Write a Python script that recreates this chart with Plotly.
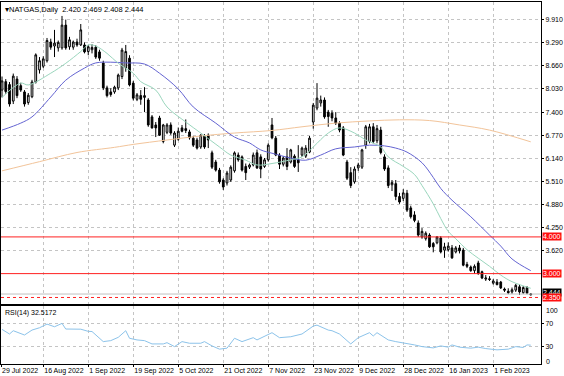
import plotly.graph_objects as go

# ---------------- data ----------------
opens = [8.00, 8.23, 8.15, 7.70, 8.30, 8.12, 7.95, 7.66, 7.82, 8.22,
         8.55, 8.65, 8.80, 9.31, 9.20, 9.15, 9.15, 9.77, 9.18, 9.17,
         9.31, 9.23, 9.23, 9.05, 9.10, 9.17, 9.04, 8.74, 8.06, 7.95,
         7.95, 8.06, 8.37, 8.60, 8.87, 8.19, 7.75, 7.85, 7.80, 7.73,
         7.27, 7.05, 7.24, 6.60, 6.85, 7.05, 6.50, 6.66, 6.97, 6.95,
         6.86, 6.69, 6.64, 6.45, 6.75, 6.77, 6.29, 6.04, 5.82, 5.55,
         5.47, 5.55, 5.80, 6.23, 6.18, 5.92, 5.90, 5.96, 6.29, 6.18,
         5.92, 6.10, 7.05, 6.69, 6.23, 5.98, 6.18, 6.04, 6.20, 6.10,
         6.23, 6.20, 6.31, 7.13, 7.51, 7.65, 7.73, 7.40, 7.37, 7.24,
         7.10, 6.97, 6.04, 5.75, 5.50, 5.88, 5.90, 6.50, 6.60, 7.00,
         6.62, 6.91, 6.18, 5.88, 5.42, 5.45, 5.10, 5.05, 5.19, 4.79,
         4.60, 4.38, 4.00, 3.95, 4.05, 3.82, 3.84, 3.97, 3.64, 3.65,
         3.70, 3.59, 3.70, 3.64, 3.25, 3.18, 3.08, 3.29, 3.05, 2.85,
         2.86, 2.74, 2.77, 2.77, 2.58, 2.52, 2.50, 2.55, 2.64, 2.48,
         2.62, 2.420]
highs = [8.37, 8.30, 8.22, 8.45, 8.38, 8.20, 8.00, 7.92, 8.28, 9.00,
         8.90, 8.92, 9.42, 9.40, 9.64, 9.35, 10.02, 9.92, 9.45, 9.35,
         9.40, 9.80, 9.30, 9.22, 9.25, 9.22, 9.10, 8.80, 8.12, 8.05,
         8.12, 8.45, 9.15, 9.23, 8.95, 8.25, 7.92, 8.00, 8.08, 7.78,
         7.32, 7.13, 7.30, 7.08, 7.10, 7.12, 6.88, 6.98, 7.05, 7.20,
         6.92, 6.75, 6.70, 6.80, 6.80, 6.82, 6.35, 6.10, 5.88, 5.60,
         5.80, 5.95, 6.33, 6.30, 6.22, 6.00, 6.00, 6.30, 6.38, 6.25,
         6.15, 6.55, 7.24, 6.75, 6.28, 6.20, 6.42, 6.40, 6.25, 6.50,
         6.46, 6.50, 6.75, 7.65, 8.19, 7.85, 7.80, 7.46, 7.45, 7.40,
         7.15, 7.02, 6.10, 5.90, 5.92, 6.02, 6.40, 7.05, 7.08, 7.10,
         7.05, 7.00, 6.25, 5.95, 5.55, 5.55, 5.20, 5.30, 5.28, 4.85,
         4.70, 4.45, 4.24, 4.15, 4.10, 3.86, 4.02, 4.02, 3.84, 3.85,
         3.78, 3.75, 3.78, 3.70, 3.32, 3.22, 3.25, 3.35, 3.08, 2.96,
         2.93, 2.85, 2.85, 2.80, 2.62, 2.60, 2.62, 2.72, 2.70, 2.66,
         2.66, 2.469]
lows = [7.80, 7.90, 7.55, 7.62, 7.78, 7.95, 7.55, 7.60, 7.78, 8.18,
        8.45, 8.60, 8.75, 9.10, 8.90, 9.05, 9.10, 9.10, 9.10, 9.10,
        9.18, 9.20, 9.00, 8.95, 9.00, 8.85, 8.80, 8.00, 7.80, 7.82,
        7.90, 8.00, 8.30, 8.50, 8.10, 7.72, 7.70, 7.60, 7.40, 7.00,
        6.95, 6.72, 6.75, 6.55, 6.80, 6.78, 6.45, 6.62, 6.85, 6.83,
        6.65, 6.45, 6.38, 6.40, 6.40, 6.42, 5.85, 5.78, 5.45, 5.28,
        5.40, 5.50, 5.75, 6.05, 5.78, 5.55, 5.85, 5.92, 5.85, 5.60,
        5.88, 6.05, 6.66, 6.20, 5.85, 5.92, 5.82, 6.00, 5.88, 5.77,
        6.18, 6.15, 6.28, 6.95, 7.45, 7.55, 7.22, 7.00, 7.15, 7.05,
        6.85, 6.20, 5.55, 5.33, 5.45, 5.80, 5.85, 6.40, 6.55, 6.55,
        6.55, 6.25, 5.80, 5.33, 5.25, 5.00, 4.90, 4.98, 4.68, 4.50,
        4.40, 4.00, 3.95, 3.90, 3.70, 3.58, 3.80, 3.55, 3.43, 3.60,
        3.40, 3.55, 3.55, 3.20, 3.15, 3.05, 3.00, 2.97, 2.85, 2.80,
        2.80, 2.70, 2.68, 2.58, 2.50, 2.44, 2.45, 2.50, 2.42, 2.45,
        2.44, 2.408]
closes = [8.25, 7.96, 7.62, 8.38, 7.85, 8.00, 7.62, 7.86, 8.22, 8.96,
          8.80, 8.85, 9.35, 9.17, 9.28, 9.30, 9.77, 9.15, 9.37, 9.31,
          9.23, 9.64, 9.04, 9.18, 9.16, 8.90, 8.87, 8.06, 7.85, 7.88,
          8.08, 8.41, 9.09, 9.05, 8.14, 7.78, 7.87, 7.75, 7.85, 7.05,
          6.97, 6.97, 6.77, 7.05, 7.05, 6.83, 6.83, 6.88, 6.88, 6.90,
          6.70, 6.50, 6.42, 6.77, 6.45, 6.64, 5.90, 5.82, 5.50, 5.36,
          5.74, 5.90, 6.29, 6.10, 5.82, 5.75, 5.96, 6.23, 5.88, 5.85,
          6.10, 6.50, 6.70, 6.23, 5.98, 6.15, 5.92, 6.37, 5.92, 6.02,
          6.42, 6.42, 6.69, 7.59, 7.78, 7.73, 7.27, 7.28, 7.24, 7.10,
          6.91, 6.23, 5.60, 5.40, 5.85, 5.96, 6.37, 7.00, 7.00, 6.60,
          6.95, 6.30, 5.85, 5.40, 5.48, 5.10, 4.95, 5.20, 4.73, 4.55,
          4.45, 4.05, 4.15, 4.10, 3.73, 3.73, 4.00, 3.59, 3.73, 3.75,
          3.43, 3.70, 3.62, 3.23, 3.20, 3.08, 3.20, 3.00, 2.88, 2.88,
          2.84, 2.80, 2.70, 2.61, 2.55, 2.48, 2.56, 2.68, 2.50, 2.62,
          2.47, 2.444]
bars = list(range(len(closes)))

# moving averages, read at sample bars
fast_ma_bars = [0, 5, 7, 13, 17, 21, 23, 25, 28, 31, 35, 37, 41, 44, 49, 53, 58, 61,
                65, 68, 72, 77, 80, 83, 87, 90, 94, 97, 101, 103, 107, 110, 112,
                115, 117, 119, 121, 124, 127, 130, 133, 136, 141]
fast_ma = [7.80, 8.19, 8.14, 8.46, 8.73, 9.05, 9.23, 9.20, 9.00, 8.73, 8.46, 8.23,
           8.00, 7.54, 7.13, 6.83, 6.45, 6.23, 6.09, 5.96, 6.00, 6.10, 6.18, 6.45,
           6.83, 6.97, 6.83, 6.64, 6.45, 6.18, 5.92, 5.70, 5.40, 4.90, 4.50, 4.15,
           3.95, 3.65, 3.42, 3.20, 2.96, 2.78, 2.60]
mid_ma_bars = [0, 5, 8, 13, 17, 22, 25, 29, 33, 38, 42, 47, 51, 57, 62, 66, 69, 72,
               77, 81, 85, 89, 94, 98, 102, 105, 108, 112, 115, 117, 120, 125, 130,
               133, 136, 141]
mid_ma = [6.91, 7.10, 7.27, 7.81, 8.27, 8.60, 8.74, 8.76, 8.74, 8.71, 8.46, 8.03,
          7.54, 7.10, 6.72, 6.56, 6.37, 6.28, 6.15, 6.09, 6.23, 6.40, 6.45, 6.50,
          6.48, 6.42, 6.31, 6.02, 5.62, 5.32, 5.00, 4.55, 4.05, 3.75, 3.40, 3.08]
slow_ma_bars = [0, 10, 20, 30, 35, 44, 53, 62, 72, 80, 89, 98, 106, 114, 122, 130, 141]
slow_ma = [5.80, 6.05, 6.30, 6.44, 6.52, 6.64, 6.75, 6.83, 6.90, 7.00, 7.10, 7.16,
           7.19, 7.17, 7.05, 6.91, 6.59]

# RSI(14), read at sample bars
rsi_bars = [0, 2, 3, 6, 8, 10, 12, 14, 16, 17, 21, 23, 24, 27, 29, 31, 33, 34, 36,
            38, 40, 43, 44, 46, 48, 50, 53, 54, 56, 58, 60, 62, 64, 67, 68, 70, 72,
            74, 77, 80, 83, 84, 87, 88, 90, 93, 95, 98, 99, 100, 103, 105, 107, 110,
            112, 115, 117, 119, 120, 122, 125, 127, 129, 132, 135, 137, 139, 140, 141]
rsi = [59.7, 51.7, 57.4, 50.0, 58.5, 62.5, 68.8, 64.2, 70.0, 60.3, 60.0, 56.3, 56.0,
       38.6, 40.3, 46.0, 57.4, 44.4, 41.5, 40.3, 34.6, 34.6, 36.8, 30.0, 38.6, 35.8,
       35.8, 38.6, 31.2, 25.6, 27.3, 44.4, 38.6, 45.4, 41.5, 48.3, 54.0, 45.4, 47.0,
       51.7, 65.4, 67.0, 58.5, 57.4, 51.7, 34.6, 45.4, 54.0, 48.3, 54.0, 41.5, 38.6,
       36.8, 32.9, 30.0, 27.8, 31.2, 29.0, 32.9, 29.0, 27.3, 29.0, 26.6, 24.4, 25.6,
       30.0, 28.5, 32.9, 32.5]

price_ticks = [9.91, 9.29, 8.66, 8.03, 7.40, 6.77, 6.14, 5.51, 4.88, 4.25, 3.62]
level_lines = [4.000, 3.000, 2.350]
bid_price = 2.444
header = "\u25beNATGAS,Daily  2.420 2.469 2.408 2.444"
rsi_title = "RSI(14) 32.5172"
date_labels = ["29 Jul 2022", "16 Aug 2022", "1 Sep 2022", "19 Sep 2022", "5 Oct 2022",
               "21 Oct 2022", "7 Nov 2022", "23 Nov 2022", "9 Dec 2022", "28 Dec 2022",
               "16 Jan 2023", "1 Feb 2023"]
date_label_bars = [-1, 11, 23, 35, 47, 59, 71, 83, 95, 107, 119, 131]
rsi_levels = [70, 30]

# ---------------- figure ----------------
W, H = 564, 376
ml, mr, mt, mb = 1, 23, 2, 12
ph = H - mt - mb
main_dom = [(H - mb - 304) / ph, 1.0]
rsi_dom = [0.0, (H - mb - 306) / ph]

x0 = -0.27
x1 = 143.73
FONT = "Liberation Sans"
TF = dict(family=FONT, size=7, color="black")

fig = go.Figure()
fig.add_trace(go.Candlestick(
    x=bars, open=opens, high=highs, low=lows, close=closes,
    increasing=dict(line=dict(color="black", width=1), fillcolor="white"),
    decreasing=dict(line=dict(color="black", width=1), fillcolor="black"),
    whiskerwidth=0, xaxis="x", yaxis="y", showlegend=False, hoverinfo="skip"))
fig.add_trace(go.Scatter(x=slow_ma_bars, y=slow_ma, mode="lines", line=dict(color="#f2c49a", width=1, shape="spline"),
                         xaxis="x", yaxis="y", showlegend=False))
fig.add_trace(go.Scatter(x=mid_ma_bars, y=mid_ma, mode="lines", line=dict(color="#6464d2", width=1, shape="spline"),
                         xaxis="x", yaxis="y", showlegend=False))
fig.add_trace(go.Scatter(x=fast_ma_bars, y=fast_ma, mode="lines", line=dict(color="#9ad6bd", width=1, shape="spline"),
                         xaxis="x", yaxis="y", showlegend=False))
fig.add_trace(go.Scatter(x=rsi_bars, y=rsi, mode="lines", line=dict(color="#8cc3ea", width=1),
                         xaxis="x2", yaxis="y2", showlegend=False))

shapes = []
for lv in level_lines:
    shapes.append(dict(type="line", xref="x domain", x0=0, x1=1, yref="y", y0=lv, y1=lv,
                       line=dict(color="#ff2020", width=1, dash="dot" if lv == min(level_lines) else "solid")))
shapes.append(dict(type="line", xref="x domain", x0=0, x1=1, yref="y", y0=bid_price, y1=bid_price,
                   line=dict(color="#c0c0c0", width=1)))

annotations = [
    dict(text=header, xref="paper", yref="paper", x=0, y=1, xanchor="left", yanchor="top",
         xshift=2, yshift=-1, showarrow=False, font=dict(family=FONT, size=7.5, color="black")),
    dict(text=rsi_title, xref="paper", yref="y2 domain", x=0, y=1, xanchor="left", yanchor="top",
         xshift=2, yshift=-1, showarrow=False, font=TF),
    dict(text="100", xref="paper", yref="y2", x=1, y=100, xanchor="left", yanchor="middle",
         xshift=3, yshift=-4, showarrow=False, font=TF),
    dict(text="0", xref="paper", yref="y2", x=1, y=0, xanchor="left", yanchor="middle",
         xshift=3, yshift=3, showarrow=False, font=TF),
]
annotations.append(dict(text=f"{bid_price:.3f}", xref="paper", yref="y", x=1, y=bid_price,
                        xanchor="left", yanchor="middle", xshift=1, yshift=2, showarrow=False,
                        bgcolor="black", borderpad=0, font=dict(family=FONT, size=7, color="white")))
for lv in level_lines:
    annotations.append(dict(text=f"{lv:.3f}", xref="paper", yref="y", x=1, y=lv,
                            xanchor="left", yanchor="middle", xshift=1, showarrow=False,
                            bgcolor="#ff1010", borderpad=0, font=dict(family=FONT, size=7, color="white")))

tick_pos = [max(b, x0) for b in date_label_bars]
grid = dict(showgrid=True, gridcolor="#c4c4c4", griddash="dot", gridwidth=1)
axline = dict(showline=True, linecolor="black", linewidth=1, mirror=True, zeroline=False, automargin=False)

fig.update_layout(
    width=W, height=H, margin=dict(l=ml, r=mr, t=mt, b=mb, autoexpand=False),
    paper_bgcolor="white", plot_bgcolor="white",
    font=TF,
    xaxis=dict(domain=[0, 1], anchor="y", range=[x0, x1], tickvals=tick_pos, showticklabels=False,
               rangeslider=dict(visible=False), **axline, **grid),
    xaxis2=dict(domain=[0, 1], anchor="y2", range=[x0, x1], matches="x", tickvals=tick_pos,
                ticktext=date_labels, ticklabelposition="outside right", tickangle=0,
                ticks="outside", ticklen=2, tickcolor="black", tickfont=TF, **axline, **grid),
    yaxis=dict(domain=main_dom, anchor="x", side="right", range=[2.172, 10.40],
               tickvals=price_ticks, ticktext=[f"{p:.3f}" for p in price_ticks], tickangle=0,
               ticks="outside", ticklen=2, tickcolor="black", tickfont=TF, **axline, **grid),
    yaxis2=dict(domain=rsi_dom, anchor="x2", side="right", range=[0, 100],
                tickvals=rsi_levels, ticktext=[str(v) for v in rsi_levels], tickangle=0,
                ticks="outside", ticklen=2, tickcolor="black", tickfont=TF, **axline, **grid),
    shapes=shapes, annotations=annotations, showlegend=False, hovermode=False,
    boxgap=0.35,
)

fig.write_html("out.html", config={"displayModeBar": False, "staticPlot": True},
               post_script="document.body.style.margin='0';document.body.style.overflow='hidden';")
